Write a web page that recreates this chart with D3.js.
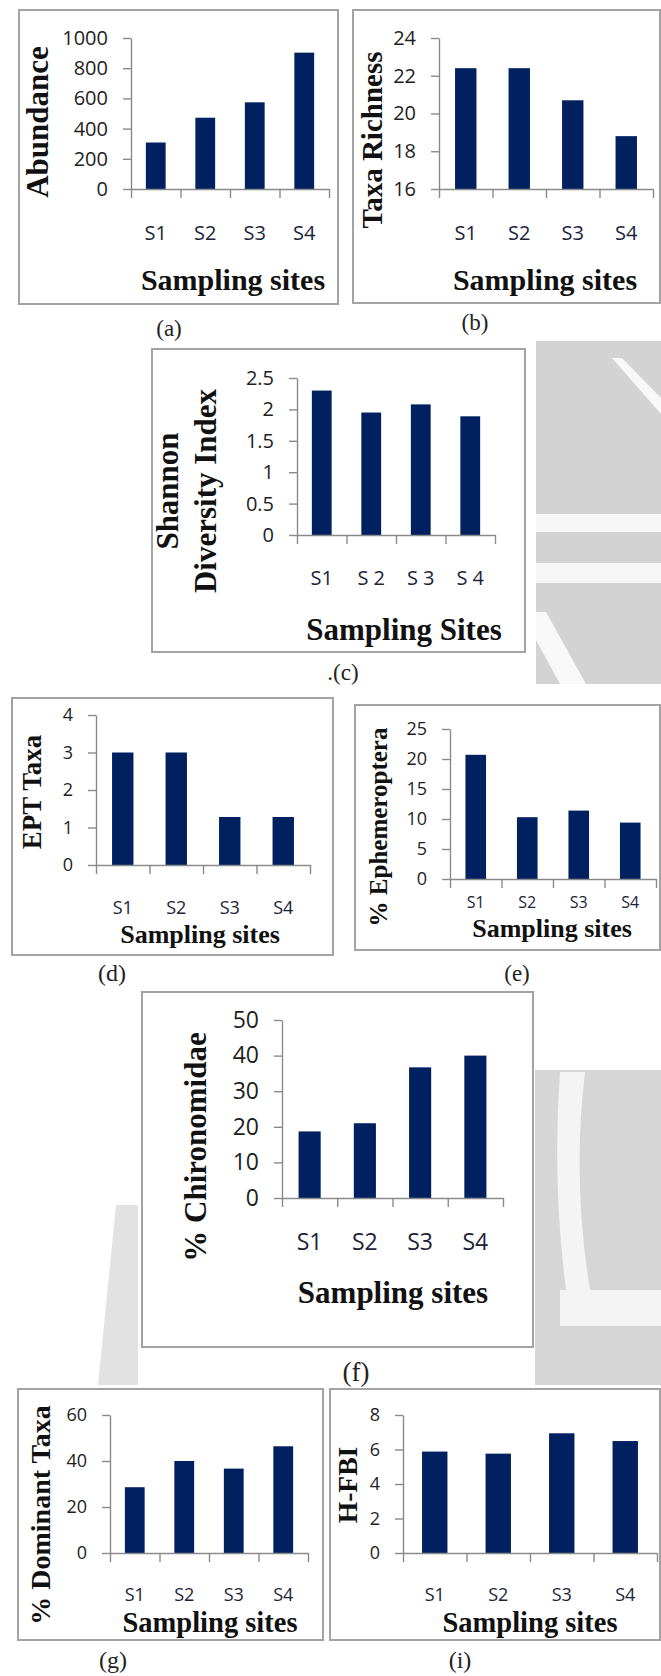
<!DOCTYPE html>
<html>
<head>
<meta charset="utf-8">
<script src="https://cdn.jsdelivr.net/npm/d3@7"></script>
<style>
body{margin:0;background:#fff}
svg{display:block}
</style>
</head>
<body>
<div id="container"></div>
<script>
const width = 661
const height = 1676

// categories
const sites = ["S1","S2","S3","S4"]
const sitesSpaced = ["S1","S 2","S 3","S 4"]

// series values
const abundance = [308, 472, 574, 903]
const taxaRichness = [22.4, 22.4, 20.7, 18.8]
const shannon = [2.30, 1.95, 2.08, 1.89]
const eptTaxa = [3, 3, 1.28, 1.28]
const ephemeroptera = [20.7, 10.3, 11.4, 9.4]
const chironomidae = [18.7, 21.0, 36.7, 40.0]
const dominantTaxa = [28.6, 40.0, 36.7, 46.4]
const hfbi = [5.88, 5.76, 6.94, 6.49]

// tick labels
const abundanceTicks = [0,200,400,600,800,1000]
const richnessTicks = [16,18,20,22,24]
const shannonTicks = [0,0.5,1,1.5,2,2.5]
const eptTicks = [0,1,2,3,4]
const ephemTicks = [0,5,10,15,20,25]
const chironTicks = [0,10,20,30,40,50]
const dominantTicks = [0,20,40,60]
const hfbiTicks = [0,2,4,6,8]

const svg = d3.select("#container")
  .append("svg")
  .attr("width",width)
  .attr("height",height)

// grey watermark bits of the scanned page
const wm = svg.append("g")
wm.append("rect").attr("x",536).attr("y",341).attr("width",125).attr("height",343).attr("fill","#d3d3d3")
wm.append("rect").attr("x",536).attr("y",514).attr("width",125).attr("height",18).attr("fill","#f6f6f6")
wm.append("rect").attr("x",536).attr("y",563).attr("width",125).attr("height",20).attr("fill","#f6f6f6")
wm.append("path").attr("d","M612,358 L622,358 L661,398 L661,414 Z").attr("fill","#f8f8f8")
wm.append("path").attr("d","M536,612 L546,612 L586,684 L560,684 L536,640 Z").attr("fill","#f8f8f8")
wm.append("rect").attr("x",535).attr("y",1070).attr("width",126).attr("height",315).attr("fill","#d6d6d6")
wm.append("path").attr("d","M560,1072 L585,1072 Q572,1180 590,1290 L566,1290 Q552,1180 560,1072 Z").attr("fill","#f4f4f4")
wm.append("rect").attr("x",560).attr("y",1290).attr("width",101).attr("height",36).attr("fill","#f4f4f4")
wm.append("path").attr("d","M116,1205 L138,1205 L138,1385 L98,1385 Z").attr("fill","#e2e2e2")

const panels = [
  {values:abundance, cats:sites, ticks:abundanceTicks, box:[19,10,338,304], plot:[131,329,38,189],
   tickFont:20, catOff:44, ylab:["Abundance"], ylabX:[37], ylabY:122, ylabFont:31,
   xlab:"Sampling sites", xlabX:233, xlabY:290, xlabFont:30, cap:"(a)", capX:169, capY:328, capFont:23},
  {values:taxaRichness, cats:sites, ticks:richnessTicks, box:[353,10,660,303], plot:[439,653,38,189],
   tickFont:20, catOff:44, ylab:["Taxa Richness"], ylabX:[372], ylabY:140, ylabFont:29,
   xlab:"Sampling sites", xlabX:545, xlabY:290, xlabFont:30, cap:"(b)", capX:475, capY:322, capFont:23},
  {values:shannon, cats:sitesSpaced, ticks:shannonTicks, box:[152,349,525,652], plot:[297,495,378,535],
   tickFont:20, catOff:43, ylab:["Shannon","Diversity Index"], ylabX:[167,205], ylabY:491, ylabFont:31,
   xlab:"Sampling Sites", xlabX:404, xlabY:640, xlabFont:31, cap:".(c)", capX:343, capY:672, capFont:23},
  {values:eptTaxa, cats:sites, ticks:eptTicks, box:[12,698,333,955], plot:[96,310,715,865],
   tickFont:18, catOff:43, ylab:["EPT Taxa"], ylabX:[32], ylabY:792, ylabFont:27,
   xlab:"Sampling sites", xlabX:200, xlabY:943, xlabFont:26, cap:"(d)", capX:112, capY:973, capFont:24},
  {values:ephemeroptera, cats:sites, ticks:ephemTicks, box:[355,705,660,950], plot:[450,656,729,879],
   tickFont:18, catOff:23, catFont:16, ylab:["% Ephemeroptera"], ylabX:[378], ylabY:827, ylabFont:25,
   xlab:"Sampling sites", xlabX:552, xlabY:937, xlabFont:26, cap:"(e)", capX:517, capY:973, capFont:23},
  {values:chironomidae, cats:sites, ticks:chironTicks, box:[142,992,533,1347], plot:[282,503,1020,1198],
   tickFont:23, catOff:44, ylab:["% Chironomidae"], ylabX:[195], ylabY:1147, ylabFont:31,
   xlab:"Sampling sites", xlabX:393, xlabY:1303, xlabFont:31, cap:"(f)", capX:356, capY:1372, capFont:27},
  {values:dominantTaxa, cats:sites, ticks:dominantTicks, box:[18,1389,323,1640], plot:[110,308,1415,1553],
   tickFont:18, catOff:42, ylab:["% Dominant Taxa"], ylabX:[40], ylabY:1515, ylabFont:28,
   xlab:"Sampling sites", xlabX:210, xlabY:1632, xlabFont:28.5, cap:"(g)", capX:113, capY:1660, capFont:24},
  {values:hfbi, cats:sites, ticks:hfbiTicks, box:[330,1389,660,1640], plot:[403,657,1415,1553],
   tickFont:18, catOff:42, ylab:["H-FBI"], ylabX:[347], ylabY:1485, ylabFont:27.6,
   xlab:"Sampling sites", xlabX:530, xlabY:1632, xlabFont:28.5, cap:"(i)", capX:460, capY:1660, capFont:24}
]

const axisColor = "#8a8a8a"

panels.forEach(p => {
  const g = svg.append("g")

  // frame
  g.append("rect")
    .attr("x",p.box[0]).attr("y",p.box[1])
    .attr("width",p.box[2]-p.box[0]).attr("height",p.box[3]-p.box[1])
    .attr("fill","#fff").attr("stroke","#a3a3a3").attr("stroke-width",2)

  const x = d3.scaleBand()
    .domain(p.cats)
    .range([p.plot[0],p.plot[1]])
    .paddingInner(0.6)
    .paddingOuter(0.3)

  const y = d3.scaleLinear()
    .domain(d3.extent(p.ticks))
    .range([p.plot[3],p.plot[2]])

  // bars
  g.selectAll(".bar")
    .data(p.values)
    .join("rect")
    .attr("x",(d,i)=>x(p.cats[i]))
    .attr("y",d=>y(d))
    .attr("width",x.bandwidth())
    .attr("height",d=>y(y.domain()[0])-y(d))
    .attr("fill","#002060")

  // y axis
  const ya = g.append("g")
    .attr("transform",`translate(${p.plot[0]},0)`)
    .call(d3.axisLeft(y).tickValues(p.ticks).tickSize(8).tickSizeOuter(0).tickPadding(15).tickFormat(d=>String(d)))
  ya.selectAll("text").attr("font-family","'Open Sans', sans-serif").attr("font-size",p.tickFont).attr("fill","#1e1e1e")

  // x axis : boundary ticks
  const idx = d3.scaleLinear().domain([0,p.cats.length]).range([p.plot[0],p.plot[1]])
  g.append("g")
    .attr("transform",`translate(0,${p.plot[3]})`)
    .call(d3.axisBottom(idx).tickValues(d3.range(p.cats.length+1)).tickSize(9).tickSizeOuter(0).tickFormat(""))

  // x axis : category labels
  const xl = g.append("g")
    .attr("transform",`translate(0,${p.plot[3]})`)
    .call(d3.axisBottom(x).tickSize(0))
  xl.select(".domain").remove()
  xl.selectAll("text")
    .attr("y",p.catOff).attr("dy","0.36em")
    .attr("font-family","'Open Sans', sans-serif").attr("font-size",p.catFont || p.tickFont).attr("fill","#1c2338")

  g.selectAll(".domain, .tick line").attr("stroke",axisColor).attr("stroke-width",1.4)

  // axis titles
  p.ylab.forEach((t,i) => {
    g.append("text")
      .attr("transform",`translate(${p.ylabX[i]},${p.ylabY}) rotate(-90)`)
      .attr("text-anchor","middle").attr("dy","0.35em")
      .attr("font-family","'Liberation Serif', 'Times New Roman', serif")
      .attr("font-weight","bold").attr("font-size",p.ylabFont).attr("fill","#111")
      .text(t)
  })
  g.append("text")
    .attr("x",p.xlabX).attr("y",p.xlabY)
    .attr("text-anchor","middle")
    .attr("font-family","'Liberation Serif', 'Times New Roman', serif")
    .attr("font-weight","bold").attr("font-size",p.xlabFont).attr("fill","#111")
    .text(p.xlab)

  // caption under the frame
  svg.append("text")
    .attr("x",p.capX).attr("y",p.capY).attr("dy","0.35em")
    .attr("text-anchor","middle")
    .attr("font-family","'Liberation Serif', 'Times New Roman', serif")
    .attr("font-size",p.capFont).attr("fill","#222")
    .text(p.cap)
})
</script>
</body>
</html>
